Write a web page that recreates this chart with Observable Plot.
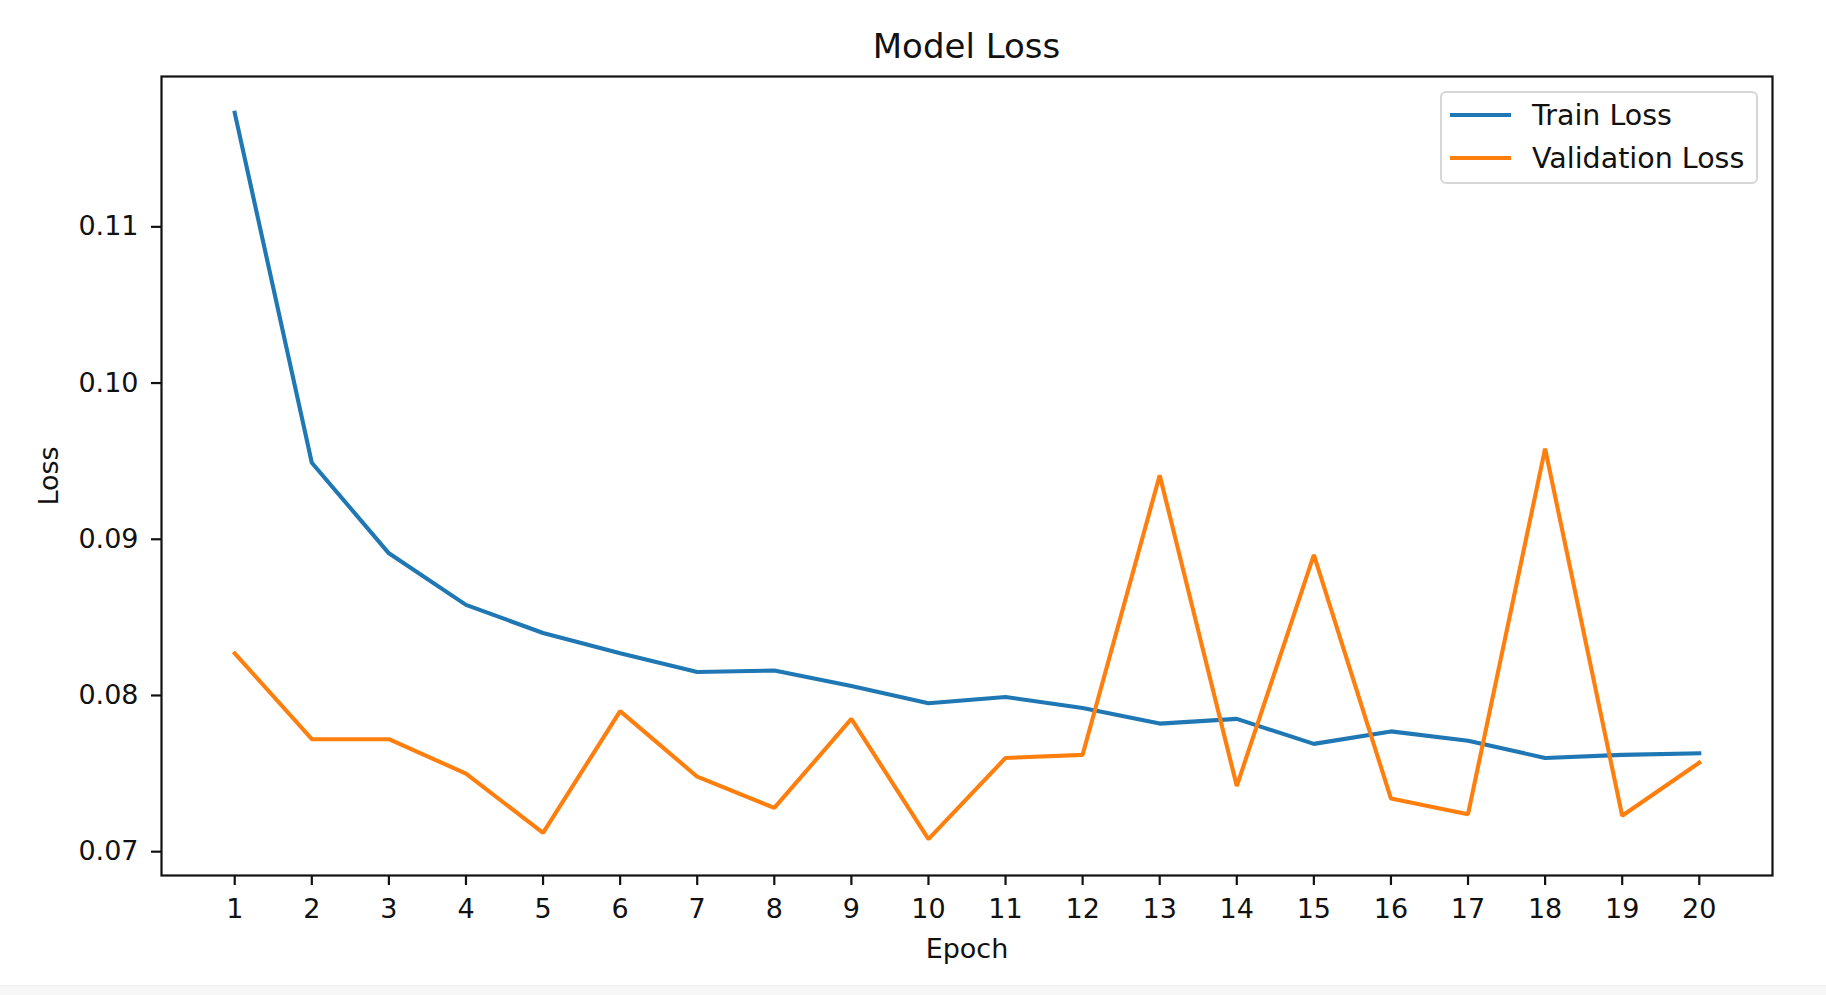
<!DOCTYPE html>
<html>
<head>
<meta charset="utf-8">
<script src="https://cdn.jsdelivr.net/npm/d3@7"></script>
<script src="https://cdn.jsdelivr.net/npm/@observablehq/plot@0.6"></script>
<style>
  html, body { margin: 0; padding: 0; background: #ffffff; }
  body { width: 1826px; height: 995px; overflow: hidden; font-family: "DejaVu Sans", sans-serif; }
  #wrap { position: relative; width: 1826px; height: 985px; background: #ffffff; }
  #title { height: 62px; box-sizing: border-box; padding-top: 27px; line-height: 38px; font-size: 34px; color: #111;
           width: 1611px; margin-left: 161px; text-align: center; }
  #legend { position: absolute; left: 1440px; top: 91px; width: 318px; height: 93px; box-sizing: border-box;
            border: 2px solid #d6d6d6; border-radius: 6px; background: rgba(255,255,255,0.8); }
  .item { position: absolute; left: 8px; height: 40px; display: flex; align-items: center; font-size: 28.5px; color: #111; }
  .swatch { width: 61px; height: 4px; margin-right: 21px; }
  #strip { height: 10px; background: #f7f7f7; border-top: 1px solid #eeeeee; }
</style>
</head>
<body>
<div id="wrap">
  <div id="title">Model Loss</div>
  <div id="chart"></div>
  <div id="legend"></div>
</div>
<div id="strip"></div>
<script>
// ---- data ----
const epochs = [1, 2, 3, 4, 5, 6, 7, 8, 9, 10, 11, 12, 13, 14, 15, 16, 17, 18, 19, 20];
const trainLoss = [0.1173, 0.0949, 0.0891, 0.0858, 0.0840, 0.0827, 0.0815, 0.0816, 0.0806, 0.0795,
                   0.0799, 0.0792, 0.0782, 0.0785, 0.0769, 0.0777, 0.0771, 0.0760, 0.0762, 0.0763];
const valLoss = [0.0827, 0.0772, 0.0772, 0.0750, 0.0712, 0.0790, 0.0748, 0.0728, 0.0785, 0.0708,
                 0.0760, 0.0762, 0.0941, 0.0742, 0.0890, 0.0734, 0.0724, 0.0958, 0.0723, 0.0757];
const seriesNames = ["Train Loss", "Validation Loss"];
const seriesColors = ["#1f77b4", "#ff7f0e"];
const yTicks = [0.07, 0.08, 0.09, 0.10, 0.11];

// ---- table ----
const rows = [];
epochs.forEach((e, i) => {
  rows.push({epoch: e, loss: trainLoss[i], series: seriesNames[0]});
  rows.push({epoch: e, loss: valLoss[i], series: seriesNames[1]});
});

// matplotlib-like 5% margins
const pad = (lo, hi) => { const m = (hi - lo) * 0.05; return [lo - m, hi + m]; };
const xDom = pad(d3.min(epochs), d3.max(epochs));
const allY = trainLoss.concat(valLoss);
const yDom = pad(d3.min(allY), d3.max(allY));

const chart = Plot.plot({
  width: 1826,
  height: 923,
  marginTop: 14,
  marginBottom: 110,
  marginLeft: 161,
  marginRight: 54,
  style: {fontFamily: "DejaVu Sans, sans-serif", fontSize: "27px", color: "#111", background: "#ffffff"},
  x: {domain: xDom, label: "Epoch", labelArrow: "none"},
  y: {domain: yDom, label: "Loss", labelArrow: "none"},
  color: {domain: seriesNames, range: seriesColors},
  marks: [
    Plot.axisX({ticks: epochs, tickFormat: d => String(d), tickSize: 10, tickPadding: 13,
                strokeWidth: 2.2, label: "Epoch", labelArrow: "none", labelAnchor: "center", labelOffset: 82, fontSize: 27}),
    Plot.axisY({ticks: yTicks, tickFormat: d3.format(".2f"), tickSize: 10, tickPadding: 13,
                strokeWidth: 2.2, label: "Loss", labelArrow: "none", labelAnchor: "center", labelOffset: 123, fontSize: 27}),
    Plot.line(rows, {x: "epoch", y: "loss", z: "series", stroke: "series", strokeWidth: 4.1,
                     strokeLinejoin: "miter", strokeLinecap: "square"}),
    Plot.frame({stroke: "#111", strokeWidth: 2.2})
  ]
});
document.getElementById("chart").appendChild(chart);

// ---- legend ----
const legend = document.getElementById("legend");
seriesNames.forEach((name, i) => {
  const item = document.createElement("div");
  item.className = "item";
  item.style.top = (i === 0 ? 2 : 45) + "px";
  const sw = document.createElement("span");
  sw.className = "swatch";
  sw.style.background = seriesColors[i];
  const tx = document.createElement("span");
  tx.textContent = name;
  item.appendChild(sw);
  item.appendChild(tx);
  legend.appendChild(item);
});
</script>
</body>
</html>
